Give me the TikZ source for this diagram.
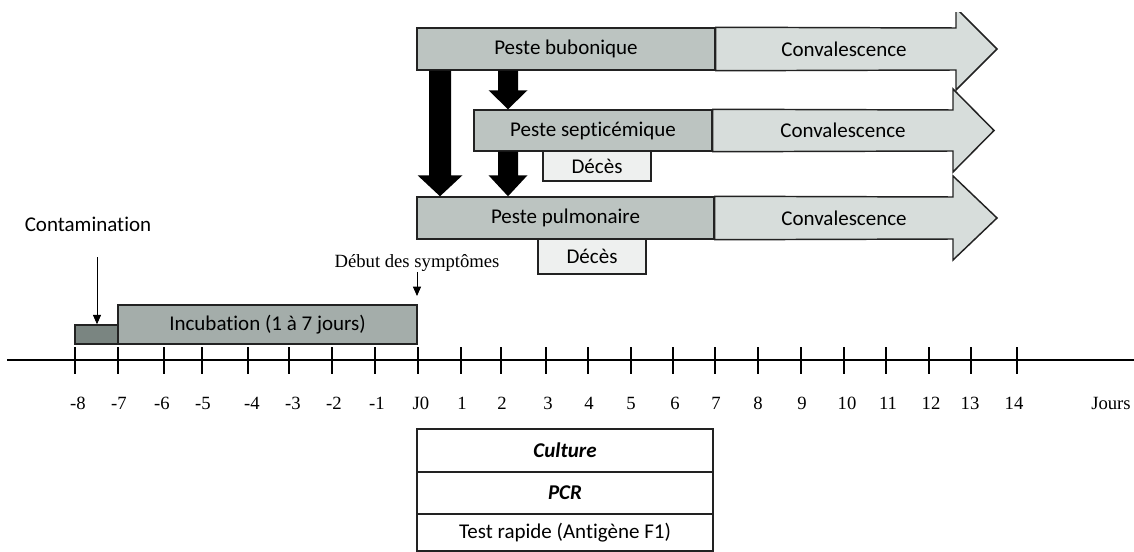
\documentclass[tikz,border=0pt]{standalone}
\usepackage{fontspec}
\setmainfont{Liberation Serif}
\newfontfamily\calib[Ligatures={NoCommon}]{Carlito}
\usetikzlibrary{fit,calc,arrows.meta}
\definecolor{phase}{HTML}{BCC4C1}
\definecolor{conv}{HTML}{D7DDDB}
\definecolor{incub}{HTML}{A4ADAA}
\definecolor{contam}{HTML}{7A8581}
\definecolor{deces}{HTML}{EEF0EF}
\definecolor{edge}{HTML}{222222}
% fat connector: #1 start coordinate, #2 tip coordinate, #3 half shaft, #4 half head, #5 head length
\newcommand{\fatarr}[5]{%
  \fill[black] ($(#1)+(-#3,0)$) -- ($(#2)+(-#3,-#5)$) -- ($(#2)+(-#4,-#5)$) -- (#2)
    -- ($(#2)+(#4,-#5)$) -- ($(#2)+(#3,-#5)$) -- ($(#1)+(#3,0)$) -- cycle;}
\begin{document}
\begin{tikzpicture}[x=0.75pt,y=-0.75pt,
  sans/.style={font=\calib\fontsize{15.75}{18}\selectfont},
  serif/.style={font=\fontsize{14}{16}\selectfont},
  boxbase/.style={draw=edge,line width=1.1pt,inner sep=0pt},
  phasebox/.style={boxbase,fill=phase},
  decesbox/.style={boxbase,fill=deces},
  incbox/.style={boxbase,fill=incub},
  conbox/.style={boxbase,fill=contam},
  tblbox/.style={boxbase,fill=white},
  convarr/.style={draw=edge,line width=1.1pt,fill=conv,line join=miter},
  thinarr/.style={line width=0.7pt,-{Triangle[width=6pt,length=7pt]}},
  tick/.style={line width=0.9pt},
  num/.style={serif,inner sep=0pt,anchor=base},
  txt/.style={sans,inner sep=0pt}]
\useasboundingbox (0,0) rectangle (1134,552);

% phase boxes (nodes)
\node[phasebox,fit={(417,28)(715,70)}] (bub) {};
\node[phasebox,fit={(474,110)(712,151)}] (sep) {};
\node[phasebox,fit={(417,197)(714,239)}] (pul) {};

% convalescence arrows
\begin{scope}
\clip (0,13) rectangle (1134,552);
\draw[convarr] (bub.north east) -- (956,28) -- (956,8) -- (997,49) -- (956,90) -- (956,70) -- (bub.south east) -- cycle;
\end{scope}
\draw[convarr] (sep.north east) -- (953,110) -- (953,89) -- (994,130.5) -- (953,172) -- (953,151) -- (sep.south east) -- cycle;
\draw[convarr] (pul.north east) -- (953,197) -- (953,176) -- (997,218) -- (953,260) -- (953,239) -- (pul.south east) -- cycle;

% redraw phase boxes on top
\node[phasebox,fit={(417,28)(715,70)}] (bub2) {};
\node[phasebox,fit={(474,110)(712,151)}] (sep2) {};
\node[phasebox,fit={(417,197)(714,239)}] (pul2) {};
\node[txt] (tbub) at (bub2.center) {Peste bubonique};
\node[txt] (tsep) at (sep2.center) {Peste septicémique};
\node[txt] (tpul) at (pul2.center) {Peste pulmonaire};

\node[txt] (c1) at (844,49) {Convalescence};
\node[txt] (c2) at (843,130.5) {Convalescence};
\node[txt] (c3) at (844,218) {Convalescence};

% deces boxes
\node[decesbox,fit={(543,151)(651,181)}] (d1) {};
\node[decesbox,fit={(538,239)(646,274)}] (d2) {};
\node[txt] (td1) at (d1.center) {Décès};
\node[txt] (td2) at (d2.center) {Décès};

% fat connectors
\coordinate (xa) at (508,0);
\coordinate (xb) at (440,0);
\coordinate (a1s) at (bub.south -| xa);
\coordinate (a1e) at (sep.north -| xa);
\coordinate (a2s) at (bub.south -| xb);
\coordinate (a2e) at (pul.north -| xb);
\coordinate (a3s) at (sep.south -| xa);
\coordinate (a3e) at (pul.north -| xa);
\fatarr{a1s}{a1e}{10}{19.5}{19}
\fatarr{a3s}{a3e}{10}{19.5}{21}
\fatarr{a2s}{a2e}{11}{22.5}{21}

% incubation
\node[conbox,fit={(75,325)(118,344)}] (cont) {};
\node[incbox,fit={(118,305)(417,344)}] (inc) {};
\node[txt] (tinc) at (inc.center) {Incubation (1 à 7 jours)};
\node[txt] (contl) at (88,224) {Contamination};
\coordinate (ca) at (97,257);
\draw[thinarr] (ca) -- (cont.north -| ca);
\node[serif,inner sep=0pt] (debut) at (417,263) {Début des symptômes};
\coordinate (dend) at (417,296);
\draw[thinarr] (debut.south -| dend) -- (dend);

% axis
\draw[tick] (7,360) -- (1134,360);
\foreach \t/\l/\lx [count=\i] in {75/-8/78,118/-7/119,164/-6/162,202/-5/203,248/-4/252,289/-3/293,332/-2/334,375/-1/377,418/J0/421,461/1/462,501/2/502,546/3/548,588/4/589,631/5/631,673/6/675,715/7/716,758/8/758,801/9/802,844/10/847,886/11/888,929/12/931,971/13/970,1017/14/1014}{
  \draw[tick] (\t,347) -- (\t,374);
  \node[num] (n\i) at (\lx,409) {\l};
}
\node[num] (jours) at (1111,409) {Jours};

% table
\node[tblbox,fit={(417,429)(713,472)}] (cul) {};
\node[tblbox,fit={(417,472)(713,514)}] (pcr) {};
\node[tblbox,fit={(417,514)(713,551)}] (rap) {};
\node[txt] (tcul) at (cul.center) {\bfseries\itshape Culture};
\node[txt] (tpcr) at (pcr.center) {\bfseries\itshape PCR};
\node[txt] (trap) at (rap.center) {Test rapide (Antigène F1)};
\end{tikzpicture}
\end{document}
